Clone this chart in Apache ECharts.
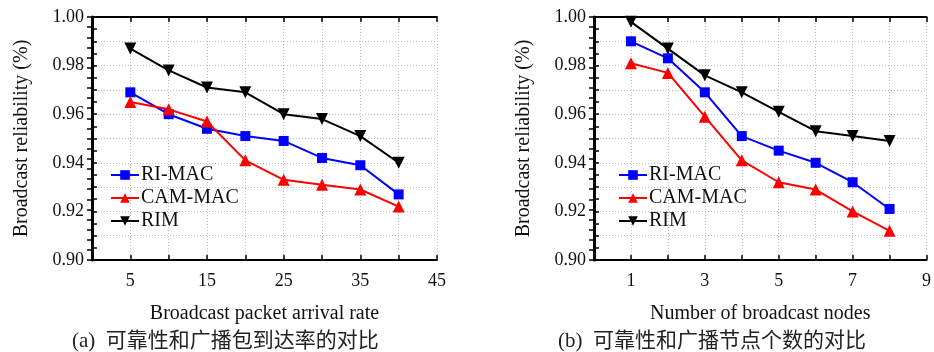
<!DOCTYPE html>
<html>
<head>
<meta charset="utf-8">
<script src="https://cdn.jsdelivr.net/npm/echarts@6/dist/echarts.min.js"></script>
<style>
  html, body { margin: 0; padding: 0; background: #fff; }
  #chart { width: 934px; height: 352px; }
</style>
</head>
<body>
<div id="chart"></div>
<script>
// Panel (a): reliability vs broadcast packet arrival rate
const rateX = [5, 10, 15, 20, 25, 30, 35, 40];
const rateRiMac = [0.969, 0.960, 0.954, 0.951, 0.949, 0.942, 0.939, 0.927];
const rateCamMac = [0.965, 0.962, 0.957, 0.941, 0.933, 0.931, 0.929, 0.922];
const rateRim = [0.987, 0.978, 0.971, 0.969, 0.960, 0.958, 0.951, 0.940];

// Panel (b): reliability vs number of broadcast nodes
const nodesX = [1, 2, 3, 4, 5, 6, 7, 8];
const nodesRiMac = [0.990, 0.983, 0.969, 0.951, 0.945, 0.940, 0.932, 0.921];
const nodesCamMac = [0.981, 0.977, 0.959, 0.941, 0.932, 0.929, 0.920, 0.912];
const nodesRim = [0.998, 0.987, 0.976, 0.969, 0.961, 0.953, 0.951, 0.949];

const seriesNames = ['RI-MAC', 'CAM-MAC', 'RIM'];
const yTickLabels = ['0.90', '0.92', '0.94', '0.96', '0.98', '1.00'];
const rateTickLabels = ['5', '15', '25', '35', '45'];
const nodesTickLabels = ['1', '3', '5', '7', '9'];
const captions = ['(a)  可靠性和广播包到达率的对比', '(b)  可靠性和广播节点个数的对比'];

const SERIF = '"Liberation Serif", "Times New Roman", serif';
const colors = ['#0000ff', '#ff0000', '#000000'];
const symbols = ['rect', 'triangle', 'path://M0,0 L10,0 L5,9 Z'];
const symbolSizes = [10, 12, 12];

const pair = (xs, ys) => xs.map((x, i) => [x, ys[i]]);

function bottomAxis(gridIndex, max, labels, name) {
  return {
    type: 'value', gridIndex, min: 0, max, interval: max === 45 ? 5 : 1,
    position: 'bottom',
    name, nameLocation: 'middle', nameGap: 44,
    nameTextStyle: { fontFamily: SERIF, fontSize: 20, color: '#111' },
    axisLine: { show: true, lineStyle: { color: '#000', width: 2 } },
    axisTick: { show: true, inside: true, length: 5, lineStyle: { color: '#000', width: 1.5 } },
    axisLabel: {
      show: true, margin: 12, fontFamily: SERIF, fontSize: 18, color: '#111',
      showMinLabel: false, showMaxLabel: true,
      formatter: v => (labels.indexOf(String(v)) >= 0 ? String(v) : '')
    },
    splitLine: { show: true, lineStyle: { color: '#bdbdbd', type: [1, 2], width: 1 } }
  };
}
function topAxis(gridIndex, max) {
  return {
    type: 'value', gridIndex, min: 0, max, interval: max === 45 ? 5 : 1,
    position: 'top',
    axisLine: { show: true, lineStyle: { color: '#000', width: 2 } },
    axisTick: { show: true, inside: true, length: 5, lineStyle: { color: '#000', width: 1.5 } },
    axisLabel: { show: false },
    splitLine: { show: false }
  };
}
function leftAxis(gridIndex) {
  return {
    type: 'value', gridIndex, min: 0.9, max: 1.0, interval: 0.01,
    position: 'left',
    name: 'Broadcast reliability (%)', nameLocation: 'middle', nameGap: 60,
    nameTextStyle: { fontFamily: SERIF, fontSize: 20, color: '#111' },
    axisLine: { show: true, lineStyle: { color: '#000', width: 2 } },
    axisTick: { show: true, inside: true, length: 5, lineStyle: { color: '#000', width: 1.5 } },
    minorTick: { show: true, splitNumber: 2, length: 5, lineStyle: { color: '#000', width: 1.5 } },
    axisLabel: {
      show: true, margin: 8, fontFamily: SERIF, fontSize: 18, color: '#111',
      formatter: v => {
        const s = v.toFixed(2);
        return yTickLabels.indexOf(s) >= 0 ? s : '';
      }
    },
    splitLine: { show: true, lineStyle: { color: '#bdbdbd', type: [1, 2], width: 1 } }
  };
}
function rightAxis(gridIndex) {
  return {
    type: 'value', gridIndex, min: 0, max: 24, interval: 1,
    position: 'right',
    axisLine: { show: true, lineStyle: { color: '#000', width: 3 } },
    axisTick: { show: true, inside: true, length: 5, lineStyle: { color: '#000', width: 1.5 } },
    axisLabel: { show: false },
    splitLine: { show: false }
  };
}

function lineSeries(name, idx, xAxisIndex, yAxisIndex, data) {
  return {
    type: 'line', name, xAxisIndex, yAxisIndex, data,
    symbol: symbols[idx], symbolSize: symbolSizes[idx], showSymbol: true,
    color: colors[idx],
    lineStyle: { color: colors[idx], width: 2 },
    itemStyle: { color: colors[idx] },
    animation: false, z: 5 + idx
  };
}

const legendBase = {
  orient: 'vertical', itemWidth: 28, itemHeight: 12, itemGap: 3,
  textStyle: { fontFamily: SERIF, fontSize: 20, color: '#111', padding: [0, 0, 0, -3] },
  data: seriesNames
};

const chart = echarts.init(document.getElementById('chart'), null, { renderer: 'canvas' });
chart.setOption({
  animation: false,
  backgroundColor: '#fff',
  grid: [
    { left: 92, top: 17, width: 345, height: 243 },
    { left: 594, top: 17, width: 342, height: 243 }
  ],
  xAxis: [
    bottomAxis(0, 45, rateTickLabels, 'Broadcast packet arrival rate'),
    topAxis(0, 45),
    bottomAxis(1, 9, nodesTickLabels, 'Number of broadcast nodes'),
    topAxis(1, 9)
  ],
  yAxis: [leftAxis(0), rightAxis(0), leftAxis(1), rightAxis(1)],
  legend: [
    Object.assign({}, legendBase, { left: 105, top: 160 }),
    Object.assign({}, legendBase, { left: 613, top: 160 })
  ],
  series: [
    lineSeries(seriesNames[0], 0, 0, 0, pair(rateX, rateRiMac)),
    lineSeries(seriesNames[1], 1, 0, 0, pair(rateX, rateCamMac)),
    lineSeries(seriesNames[2], 2, 0, 0, pair(rateX, rateRim)),
    lineSeries(seriesNames[0], 0, 2, 2, pair(nodesX, nodesRiMac)),
    lineSeries(seriesNames[1], 1, 2, 2, pair(nodesX, nodesCamMac)),
    lineSeries(seriesNames[2], 2, 2, 2, pair(nodesX, nodesRim))
  ],
  graphic: [
    { type: 'text', left: 72, top: 331, style: { text: captions[0], font: '21px ' + SERIF + ', "Noto Sans CJK SC"', fill: '#222' } },
    { type: 'text', left: 558, top: 331, style: { text: captions[1], font: '21px ' + SERIF + ', "Noto Sans CJK SC"', fill: '#222' } }
  ]
});
</script>
</body>
</html>
